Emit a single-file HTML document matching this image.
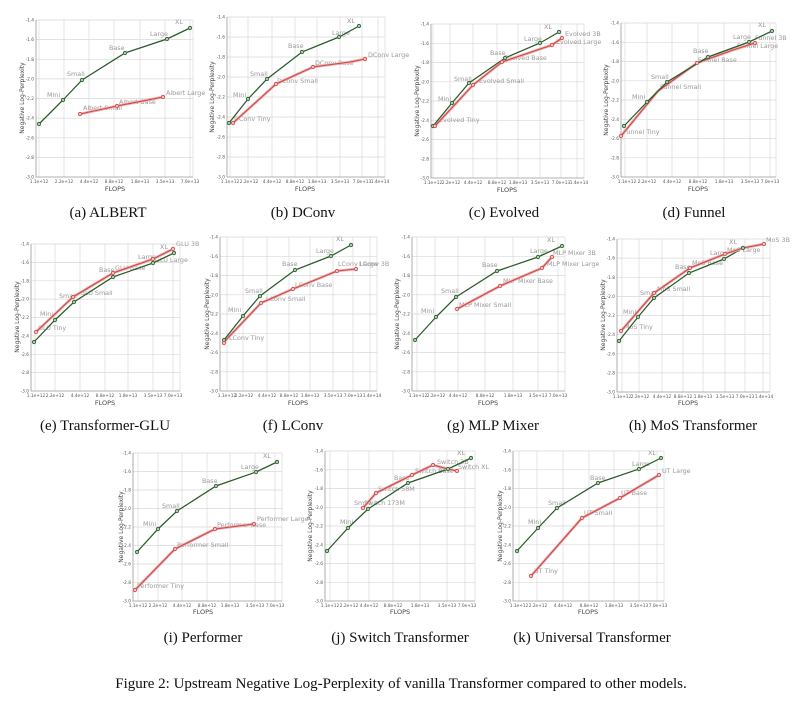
<!DOCTYPE html>
<html><head><meta charset="utf-8"><style>
html,body{margin:0;padding:0;background:#fff;}
svg{display:block}
.g{fill:none;stroke:#d9d9d9;stroke-width:.7}
.ax{fill:none;stroke:#999;stroke-width:.8}
.tk{font-family:"DejaVu Sans",sans-serif;font-size:4.3px;fill:#555}
.tr{text-anchor:end}
.tc{text-anchor:middle}
.lb{font-family:"DejaVu Sans",sans-serif;font-size:6.4px;fill:#999}
.yl{font-family:"DejaVu Sans",sans-serif;font-size:6px;fill:#444;text-anchor:middle}
.fl{font-family:"DejaVu Sans",sans-serif;font-size:6.5px;fill:#444;text-anchor:middle}
.cap{font-family:"Liberation Serif",serif;font-size:15px;fill:#111;text-anchor:middle}
.gl{fill:none;stroke:#2a5a2a;stroke-width:1.25}
.rh{fill:none;stroke:#f1b3b3;stroke-width:2.8}
.rl{fill:none;stroke:#c94848;stroke-width:1.1}
.gm{fill:#a8cda8;stroke:#2a5a2a;stroke-width:.8}
.rm{fill:#f3c0c0;stroke:#c94848;stroke-width:.8}
</style></head><body>
<svg width="803" height="702" viewBox="0 0 803 702" xmlns="http://www.w3.org/2000/svg">
<rect width="803" height="702" fill="#fff"/>

<!-- ===== Panel a ===== -->
<path class="g" d="M36 20H193M36 39.6H193M36 59.3H193M36 78.9H193M36 98.5H193M36 118.1H193M36 137.8H193M36 157.4H193M39 20V177M64 20V177M89 20V177M114 20V177M140 20V177M165 20V177M190 20V177M193 20V177"/>
<path class="ax" d="M36 20V177H193"/>
<g class="tk tr"><text x="34" y="21.5">-1.4</text><text x="34" y="41.1">-1.6</text><text x="34" y="60.8">-1.8</text><text x="34" y="80.4">-2.0</text><text x="34" y="100">-2.2</text><text x="34" y="119.6">-2.4</text><text x="34" y="139.3">-2.6</text><text x="34" y="158.9">-2.8</text><text x="34" y="178.5">-3.0</text></g>
<g class="tk tc"><text x="39" y="183">1.1e+12</text><text x="64" y="183">2.2e+12</text><text x="89" y="183">4.4e+12</text><text x="114" y="183">8.8e+12</text><text x="140" y="183">1.8e+13</text><text x="165" y="183">3.5e+13</text><text x="190" y="183">7.0e+13</text></g>
<text class="yl" transform="translate(24,98) rotate(-90)">Negative Log-Perplexity</text>
<text class="fl" x="115" y="191">FLOPS</text>
<g class="lb"><text x="175" y="24">XL</text><text x="150" y="36">Large</text><text x="109" y="50">Base</text><text x="67" y="76">Small</text><text x="47" y="97">Mini</text><text x="83" y="110">Albert Small</text><text x="119" y="104">Albert Base</text><text x="166" y="95">Albert Large</text></g>
<path class="rh" d="M80 114L117 106L163 97"/><path class="rl" d="M80 114L117 106L163 97"/>
<path class="gl" d="M39 124L63 100L82 80L125 53L167 39L190 28"/>
<g class="gm"><circle cx="39" cy="124" r="1.7"/><circle cx="63" cy="100" r="1.7"/><circle cx="82" cy="80" r="1.7"/><circle cx="125" cy="53" r="1.7"/><circle cx="167" cy="39" r="1.7"/><circle cx="190" cy="28" r="1.7"/></g>
<g class="rm"><circle cx="80" cy="114" r="1.7"/><circle cx="117" cy="106" r="1.7"/><circle cx="163" cy="97" r="1.7"/></g>
<text class="cap" x="108" y="217">(a) ALBERT</text>

<!-- ===== Panel b ===== -->
<path class="g" d="M227 17H385M227 37H385M227 57H385M227 77H385M227 97H385M227 117H385M227 137H385M227 157H385M230 17V177M248 17V177M272 17V177M295 17V177M317 17V177M340 17V177M362 17V177M378 17V177M385 17V177"/>
<path class="ax" d="M227 17V177H385"/>
<g class="tk tr"><text x="225" y="18.5">-1.4</text><text x="225" y="38.5">-1.6</text><text x="225" y="58.5">-1.8</text><text x="225" y="78.5">-2.0</text><text x="225" y="98.5">-2.2</text><text x="225" y="118.5">-2.4</text><text x="225" y="138.5">-2.6</text><text x="225" y="158.5">-2.8</text><text x="225" y="178.5">-3.0</text></g>
<g class="tk tc"><text x="230" y="183">1.1e+12</text><text x="249" y="183">2.2e+12</text><text x="272" y="183">4.4e+12</text><text x="295" y="183">8.8e+12</text><text x="317" y="183">1.8e+13</text><text x="340" y="183">3.5e+13</text><text x="362" y="183">7.0e+13</text><text x="380" y="183">1.4e+14</text></g>
<text class="yl" transform="translate(214,97) rotate(-90)">Negative Log-Perplexity</text>
<text class="fl" x="305" y="191">FLOPS</text>
<g class="lb"><text x="347" y="23">XL</text><text x="332" y="35">Large</text><text x="288" y="48">Base</text><text x="250" y="76">Small</text><text x="233" y="97">Mini</text><text x="234" y="121">DConv Tiny</text><text x="277" y="83">DConv Small</text><text x="315" y="65">DConv Base</text><text x="368" y="57">DConv Large</text></g>
<path class="rh" d="M233 123L276 84L313 67L350 62L365 59"/><path class="rl" d="M233 123L276 84L313 67L350 62L365 59"/>
<path class="gl" d="M229 123L248 99L267 79L302 52L339 37L359 26"/>
<g class="gm"><circle cx="229" cy="123" r="1.7"/><circle cx="248" cy="99" r="1.7"/><circle cx="267" cy="79" r="1.7"/><circle cx="302" cy="52" r="1.7"/><circle cx="339" cy="37" r="1.7"/><circle cx="359" cy="26" r="1.7"/></g>
<g class="rm"><circle cx="233" cy="123" r="1.7"/><circle cx="276" cy="84" r="1.7"/><circle cx="313" cy="67" r="1.7"/><circle cx="365" cy="59" r="1.7"/></g>
<text class="cap" x="303" y="217">(b) DConv</text>

<!-- ===== Panel c ===== -->
<path class="g" d="M431 24H584M431 43.3H584M431 62.5H584M431 81.8H584M431 101H584M431 120.3H584M431 139.5H584M431 158.8H584M433 24V178M450 24V178M473 24V178M497 24V178M518 24V178M540 24V178M561 24V178M577 24V178M584 24V178"/>
<path class="ax" d="M431 24V178H584"/>
<g class="tk tr"><text x="429" y="25.5">-1.4</text><text x="429" y="44.8">-1.6</text><text x="429" y="64">-1.8</text><text x="429" y="83.3">-2.0</text><text x="429" y="102.5">-2.2</text><text x="429" y="121.8">-2.4</text><text x="429" y="141">-2.6</text><text x="429" y="160.3">-2.8</text><text x="429" y="179.5">-3.0</text></g>
<g class="tk tc"><text x="433" y="184">1.1e+12</text><text x="451" y="184">2.2e+12</text><text x="473" y="184">4.4e+12</text><text x="497" y="184">8.8e+12</text><text x="518" y="184">1.8e+13</text><text x="540" y="184">3.5e+13</text><text x="561" y="184">7.0e+13</text><text x="579" y="184">1.4e+14</text></g>
<text class="yl" transform="translate(419,101) rotate(-90)">Negative Log-Perplexity</text>
<text class="fl" x="507" y="192">FLOPS</text>
<g class="lb"><text x="544" y="29">XL</text><text x="565" y="36">Evolved 3B</text><text x="556" y="44">Evolved Large</text><text x="524" y="41">Large</text><text x="490" y="55">Base</text><text x="504" y="60">Evolved Base</text><text x="454" y="81">Small</text><text x="479" y="83">Evolved Small</text><text x="438" y="101">Mini</text><text x="439" y="122">Evolved Tiny</text></g>
<path class="rh" d="M435 126L473 85L502 62L552 45L562 38"/><path class="rl" d="M435 126L473 85L502 62L552 45L562 38"/>
<path class="gl" d="M433 126L452 103L469 83L505 58L540 43L559 32"/>
<g class="gm"><circle cx="433" cy="126" r="1.7"/><circle cx="452" cy="103" r="1.7"/><circle cx="469" cy="83" r="1.7"/><circle cx="505" cy="58" r="1.7"/><circle cx="540" cy="43" r="1.7"/><circle cx="559" cy="32" r="1.7"/></g>
<g class="rm"><circle cx="435" cy="126" r="1.7"/><circle cx="473" cy="85" r="1.7"/><circle cx="502" cy="62" r="1.7"/><circle cx="552" cy="45" r="1.7"/><circle cx="562" cy="38" r="1.7"/></g>
<text class="cap" x="504" y="217">(c) Evolved</text>

<!-- ===== Panel d ===== -->
<path class="g" d="M621 23H776M621 42.3H776M621 61.5H776M621 80.8H776M621 100H776M621 119.3H776M621 138.5H776M621 157.8H776M625 23V177M647 23V177M672 23V177M698 23V177M724 23V177M750 23V177M770 23V177M776 23V177"/>
<path class="ax" d="M621 23V177H776"/>
<g class="tk tr"><text x="619" y="24.5">-1.4</text><text x="619" y="43.8">-1.6</text><text x="619" y="63">-1.8</text><text x="619" y="82.3">-2.0</text><text x="619" y="101.5">-2.2</text><text x="619" y="120.8">-2.4</text><text x="619" y="140">-2.6</text><text x="619" y="159.3">-2.8</text><text x="619" y="178.5">-3.0</text></g>
<g class="tk tc"><text x="627" y="183">1.1e+12</text><text x="647" y="183">2.2e+12</text><text x="672" y="183">4.4e+12</text><text x="698" y="183">8.8e+12</text><text x="724" y="183">1.8e+13</text><text x="750" y="183">3.5e+13</text><text x="770" y="183">7.0e+13</text></g>
<text class="yl" transform="translate(608,100) rotate(-90)">Negative Log-Perplexity</text>
<text class="fl" x="698" y="191">FLOPS</text>
<g class="lb"><text x="758" y="27">XL</text><text x="733" y="39">Large</text><text x="755" y="40">Funnel 3B</text><text x="737" y="48">Funnel Large</text><text x="693" y="53">Base</text><text x="698" y="62">Funnel Base</text><text x="651" y="79">Small</text><text x="660" y="89">Funnel Small</text><text x="632" y="99">Mini</text><text x="623" y="134">Funnel Tiny</text></g>
<path class="rh" d="M621 136L658 91L697 63L733 50L755 43"/><path class="rl" d="M621 136L658 91L697 63L733 50L755 43"/>
<path class="gl" d="M624 126L647 102L667 82L708 57L749 42L772 31"/>
<g class="gm"><circle cx="624" cy="126" r="1.7"/><circle cx="647" cy="102" r="1.7"/><circle cx="667" cy="82" r="1.7"/><circle cx="708" cy="57" r="1.7"/><circle cx="749" cy="42" r="1.7"/><circle cx="772" cy="31" r="1.7"/></g>
<g class="rm"><circle cx="621" cy="136" r="1.7"/><circle cx="697" cy="63" r="1.7"/><circle cx="755" cy="43" r="1.7"/></g>
<text class="cap" x="694" y="217">(d) Funnel</text>

<!-- ===== Panel e ===== -->
<path class="g" d="M31 244H180M31 262.4H180M31 280.8H180M31 299.1H180M31 317.5H180M31 335.9H180M31 354.3H180M31 372.6H180M35 244V391M55 244V391M80 244V391M105 244V391M128 244V391M153 244V391M173 244V391M180 244V391"/>
<path class="ax" d="M31 244V391H180"/>
<g class="tk tr"><text x="29" y="245.5">-1.4</text><text x="29" y="263.9">-1.6</text><text x="29" y="282.3">-1.8</text><text x="29" y="300.6">-2.0</text><text x="29" y="319">-2.2</text><text x="29" y="337.4">-2.4</text><text x="29" y="355.8">-2.6</text><text x="29" y="374.1">-2.8</text><text x="29" y="392.5">-3.0</text></g>
<g class="tk tc"><text x="36" y="397">1.1e+12</text><text x="55" y="397">2.2e+12</text><text x="80" y="397">4.4e+12</text><text x="105" y="397">8.8e+12</text><text x="128" y="397">1.8e+13</text><text x="153" y="397">3.5e+13</text><text x="173" y="397">7.0e+13</text></g>
<text class="yl" transform="translate(19,317) rotate(-90)">Negative Log-Perplexity</text>
<text class="fl" x="105" y="405">FLOPS</text>
<g class="lb"><text x="176" y="246">GLU 3B</text><text x="160" y="249">XL</text><text x="138" y="259">Large</text><text x="155" y="262">GLU Large</text><text x="99" y="272">Base</text><text x="115" y="270">GLU Base</text><text x="59" y="298">Small</text><text x="80" y="295">GLU Small</text><text x="40" y="316">Mini</text><text x="38" y="330">GLU Tiny</text></g>
<path class="gl" d="M34 342L55 320L74 302L113 277L153 263L174 253"/>
<path class="rh" d="M36 332L73 297L113 273L153 259L173 249"/><path class="rl" d="M36 332L73 297L113 273L153 259L173 249"/>
<g class="gm"><circle cx="34" cy="342" r="1.7"/><circle cx="55" cy="320" r="1.7"/><circle cx="74" cy="302" r="1.7"/><circle cx="113" cy="277" r="1.7"/><circle cx="153" cy="263" r="1.7"/><circle cx="174" cy="253" r="1.7"/></g>
<g class="rm"><circle cx="36" cy="332" r="1.7"/><circle cx="73" cy="297" r="1.7"/><circle cx="113" cy="273" r="1.7"/><circle cx="153" cy="259" r="1.7"/><circle cx="173" cy="249" r="1.7"/></g>
<text class="cap" x="105" y="430">(e) Transformer-GLU</text>

<!-- ===== Panel f ===== -->
<path class="g" d="M220 237H377M220 256.3H377M220 275.5H377M220 294.8H377M220 314H377M220 333.3H377M220 352.5H377M220 371.8H377M227 237V391M243 237V391M267 237V391M289 237V391M310 237V391M333 237V391M353 237V391M370 237V391M377 237V391"/>
<path class="ax" d="M220 237V391H377"/>
<g class="tk tr"><text x="218" y="238.5">-1.4</text><text x="218" y="257.8">-1.6</text><text x="218" y="277">-1.8</text><text x="218" y="296.3">-2.0</text><text x="218" y="315.5">-2.2</text><text x="218" y="334.8">-2.4</text><text x="218" y="354">-2.6</text><text x="218" y="373.3">-2.8</text><text x="218" y="392.5">-3.0</text></g>
<g class="tk tc"><text x="227" y="397">1.1e+12</text><text x="244" y="397">2.2e+12</text><text x="267" y="397">4.4e+12</text><text x="289" y="397">8.8e+12</text><text x="310" y="397">1.8e+13</text><text x="333" y="397">3.5e+13</text><text x="353" y="397">7.0e+13</text><text x="372" y="397">1.4e+14</text></g>
<text class="yl" transform="translate(209,314) rotate(-90)">Negative Log-Perplexity</text>
<text class="fl" x="298" y="405">FLOPS</text>
<g class="lb"><text x="336" y="241">XL</text><text x="316" y="253">Large</text><text x="338" y="266">LConv Large</text><text x="359" y="266">LConv 3B</text><text x="282" y="266">Base</text><text x="295" y="287">LConv Base</text><text x="245" y="293">Small</text><text x="266" y="301">LConv Small</text><text x="228" y="312">Mini</text><text x="229" y="340">LConv Tiny</text></g>
<path class="rh" d="M224 342L261 303L293 289L337 271L356 269"/><path class="rl" d="M224 342L261 303L293 289L337 271L356 269"/>
<path class="gl" d="M224 340L243 316L260 296L295 270L331 256L351 245"/>
<g class="gm"><circle cx="224" cy="340" r="1.7"/><circle cx="243" cy="316" r="1.7"/><circle cx="260" cy="296" r="1.7"/><circle cx="295" cy="270" r="1.7"/><circle cx="331" cy="256" r="1.7"/><circle cx="351" cy="245" r="1.7"/></g>
<g class="rm"><circle cx="224" cy="343" r="1.7"/><circle cx="261" cy="303" r="1.7"/><circle cx="293" cy="289" r="1.7"/><circle cx="337" cy="271" r="1.7"/><circle cx="356" cy="269" r="1.7"/></g>
<text class="cap" x="293" y="430">(f) LConv</text>

<!-- ===== Panel g ===== -->
<path class="g" d="M412 237H565M412 256.3H565M412 275.5H565M412 294.8H565M412 314H565M412 333.3H565M412 352.5H565M412 371.8H565M417 237V391M435 237V391M458 237V391M485 237V391M513 237V391M538 237V391M558 237V391M565 237V391"/>
<path class="ax" d="M412 237V391H565"/>
<g class="tk tr"><text x="410" y="238.5">-1.4</text><text x="410" y="257.8">-1.6</text><text x="410" y="277">-1.8</text><text x="410" y="296.3">-2.0</text><text x="410" y="315.5">-2.2</text><text x="410" y="334.8">-2.4</text><text x="410" y="354">-2.6</text><text x="410" y="373.3">-2.8</text><text x="410" y="392.5">-3.0</text></g>
<g class="tk tc"><text x="418" y="397">1.1e+12</text><text x="436" y="397">2.2e+12</text><text x="458" y="397">4.4e+12</text><text x="485" y="397">8.8e+12</text><text x="513" y="397">1.8e+13</text><text x="538" y="397">3.5e+13</text><text x="558" y="397">7.0e+13</text></g>
<text class="yl" transform="translate(399,314) rotate(-90)">Negative Log-Perplexity</text>
<text class="fl" x="488" y="405">FLOPS</text>
<g class="lb"><text x="547" y="242">XL</text><text x="530" y="253">Large</text><text x="553" y="255">MLP Mixer 3B</text><text x="547" y="266">MLP Mixer Large</text><text x="482" y="267">Base</text><text x="503" y="283">MLP Mixer Base</text><text x="441" y="293">Small</text><text x="459" y="307">MLP Mixer Small</text><text x="421" y="313">Mini</text></g>
<path class="rh" d="M457 309L500 286L542 268L552 257"/><path class="rl" d="M457 309L500 286L542 268L552 257"/>
<path class="gl" d="M415 340L436 317L456 297L497 271L538 257L562 246"/>
<g class="gm"><circle cx="415" cy="340" r="1.7"/><circle cx="436" cy="317" r="1.7"/><circle cx="456" cy="297" r="1.7"/><circle cx="497" cy="271" r="1.7"/><circle cx="538" cy="257" r="1.7"/><circle cx="562" cy="246" r="1.7"/></g>
<g class="rm"><circle cx="457" cy="309" r="1.7"/><circle cx="500" cy="286" r="1.7"/><circle cx="542" cy="268" r="1.7"/><circle cx="552" cy="257" r="1.7"/></g>
<text class="cap" x="493" y="430">(g) MLP Mixer</text>

<!-- ===== Panel h ===== -->
<path class="g" d="M617 239H770M617 258.1H770M617 277.3H770M617 296.4H770M617 315.5H770M617 334.6H770M617 353.8H770M617 372.9H770M622 239V392M639 239V392M662 239V392M683 239V392M703 239V392M725 239V392M745 239V392M763 239V392M770 239V392"/>
<path class="ax" d="M617 239V392H770"/>
<g class="tk tr"><text x="615" y="240.5">-1.4</text><text x="615" y="259.6">-1.6</text><text x="615" y="278.8">-1.8</text><text x="615" y="297.9">-2.0</text><text x="615" y="317">-2.2</text><text x="615" y="336.1">-2.4</text><text x="615" y="355.3">-2.6</text><text x="615" y="374.4">-2.8</text><text x="615" y="393.5">-3.0</text></g>
<g class="tk tc"><text x="622" y="398">1.1e+12</text><text x="640" y="398">2.2e+12</text><text x="662" y="398">4.4e+12</text><text x="683" y="398">8.8e+12</text><text x="703" y="398">1.8e+13</text><text x="725" y="398">3.5e+13</text><text x="745" y="398">7.0e+13</text><text x="764" y="398">1.4e+14</text></g>
<text class="yl" transform="translate(605,315) rotate(-90)">Negative Log-Perplexity</text>
<text class="fl" x="688" y="405">FLOPS</text>
<g class="lb"><text x="766" y="242">MoS 3B</text><text x="729" y="244">XL</text><text x="710" y="255">Large</text><text x="727" y="252">MoS Large</text><text x="675" y="269">Base</text><text x="692" y="265">MoS Base</text><text x="640" y="295">Small</text><text x="657" y="291">MoS Small</text><text x="623" y="314">Mini</text><text x="624" y="329">MoS Tiny</text></g>
<path class="gl" d="M619 341L638 317L654 298L689 273L724 259L743 248"/>
<path class="rh" d="M621 331L654 293L690 268L725 254L743 248L764 244"/><path class="rl" d="M621 331L654 293L690 268L725 254L743 248L764 244"/>
<g class="gm"><circle cx="619" cy="341" r="1.7"/><circle cx="638" cy="317" r="1.7"/><circle cx="654" cy="298" r="1.7"/><circle cx="689" cy="273" r="1.7"/><circle cx="724" cy="259" r="1.7"/><circle cx="743" cy="248" r="1.7"/></g>
<g class="rm"><circle cx="621" cy="331" r="1.7"/><circle cx="654" cy="293" r="1.7"/><circle cx="690" cy="268" r="1.7"/><circle cx="725" cy="254" r="1.7"/><circle cx="764" cy="244" r="1.7"/></g>
<text class="cap" x="693" y="430">(h) MoS Transformer</text>

<!-- ===== Panel i ===== -->
<path class="g" d="M133 453H282M133 471.5H282M133 490H282M133 508.5H282M133 527H282M133 545.5H282M133 564H282M133 582.5H282M138 453V601M158 453V601M182 453V601M207 453V601M230 453V601M255 453V601M275 453V601M282 453V601"/>
<path class="ax" d="M133 453V601H282"/>
<g class="tk tr"><text x="131" y="454.5">-1.4</text><text x="131" y="473">-1.6</text><text x="131" y="491.5">-1.8</text><text x="131" y="510">-2.0</text><text x="131" y="528.5">-2.2</text><text x="131" y="547">-2.4</text><text x="131" y="565.5">-2.6</text><text x="131" y="584">-2.8</text><text x="131" y="602.5">-3.0</text></g>
<g class="tk tc"><text x="138" y="607">1.1e+12</text><text x="158" y="607">2.2e+12</text><text x="182" y="607">4.4e+12</text><text x="207" y="607">8.8e+12</text><text x="230" y="607">1.8e+13</text><text x="255" y="607">3.5e+13</text><text x="275" y="607">7.0e+13</text></g>
<text class="yl" transform="translate(123,527) rotate(-90)">Negative Log-Perplexity</text>
<text class="fl" x="203" y="614">FLOPS</text>
<g class="lb"><text x="263" y="458">XL</text><text x="241" y="469">Large</text><text x="202" y="483">Base</text><text x="162" y="508">Small</text><text x="143" y="526">Mini</text><text x="257" y="521">Performer Large</text><text x="217" y="527">Performer Base</text><text x="177" y="547">Performer Small</text><text x="137" y="588">Performer Tiny</text></g>
<path class="rh" d="M135 590L175 549L215 529L254 524"/><path class="rl" d="M135 590L175 549L215 529L254 524"/>
<path class="gl" d="M137 552L158 529L177 511L216 486L256 472L277 462"/>
<g class="gm"><circle cx="137" cy="552" r="1.7"/><circle cx="158" cy="529" r="1.7"/><circle cx="177" cy="511" r="1.7"/><circle cx="216" cy="486" r="1.7"/><circle cx="256" cy="472" r="1.7"/><circle cx="277" cy="462" r="1.7"/></g>
<g class="rm"><circle cx="135" cy="590" r="1.7"/><circle cx="175" cy="549" r="1.7"/><circle cx="215" cy="529" r="1.7"/><circle cx="254" cy="524" r="1.7"/></g>
<text class="cap" x="203" y="642">(i) Performer</text>

<!-- ===== Panel j ===== -->
<path class="g" d="M325 451H475M325 469.8H475M325 488.5H475M325 507.3H475M325 526H475M325 544.8H475M325 563.5H475M325 582.3H475M330 451V601M348 451V601M369 451V601M393 451V601M420 451V601M447 451V601M465 451V601M475 451V601"/>
<path class="ax" d="M325 451V601H475"/>
<g class="tk tr"><text x="323" y="452.5">-1.4</text><text x="323" y="471.3">-1.6</text><text x="323" y="490">-1.8</text><text x="323" y="508.8">-2.0</text><text x="323" y="527.5">-2.2</text><text x="323" y="546.3">-2.4</text><text x="323" y="565">-2.6</text><text x="323" y="583.8">-2.8</text><text x="323" y="602.5">-3.0</text></g>
<g class="tk tc"><text x="330" y="607">1.1e+12</text><text x="349" y="607">2.2e+12</text><text x="369" y="607">4.4e+12</text><text x="393" y="607">8.8e+12</text><text x="420" y="607">1.8e+13</text><text x="447" y="607">3.5e+13</text><text x="467" y="607">7.0e+13</text></g>
<text class="yl" transform="translate(312,526) rotate(-90)">Negative Log-Perplexity</text>
<text class="fl" x="400" y="614">FLOPS</text>
<g class="lb"><text x="340" y="524">Mini</text><text x="354" y="505">Small</text><text x="364" y="505">Switch 173M</text><text x="378" y="491">Switch 58M</text><text x="394" y="480">Base</text><text x="415" y="473">Switch Base</text><text x="437" y="464">Switch 3B</text><text x="457" y="455">XL</text><text x="458" y="469">Switch XL</text></g>
<path class="gl" d="M327 551L348 528L368 509L408 483L448 469L471 458"/>
<path class="rh" d="M363 508L376 493L412 475L433 465L448 469L457 471"/><path class="rl" d="M363 508L376 493L412 475L433 465L448 469L457 471"/>
<g class="gm"><circle cx="327" cy="551" r="1.7"/><circle cx="348" cy="528" r="1.7"/><circle cx="368" cy="509" r="1.7"/><circle cx="408" cy="483" r="1.7"/><circle cx="448" cy="469" r="1.7"/><circle cx="471" cy="458" r="1.7"/></g>
<g class="rm"><circle cx="363" cy="508" r="1.7"/><circle cx="376" cy="493" r="1.7"/><circle cx="412" cy="475" r="1.7"/><circle cx="433" cy="465" r="1.7"/><circle cx="457" cy="471" r="1.7"/></g>
<text class="cap" x="400" y="642">(j) Switch Transformer</text>

<!-- ===== Panel k ===== -->
<path class="g" d="M513 451H664M513 469.8H664M513 488.5H664M513 507.3H664M513 526H664M513 544.8H664M513 563.5H664M513 582.3H664M519 451V601M537 451V601M563 451V601M589 451V601M614 451V601M639 451V601M657 451V601M664 451V601"/>
<path class="ax" d="M513 451V601H664"/>
<g class="tk tr"><text x="511" y="452.5">-1.4</text><text x="511" y="471.3">-1.6</text><text x="511" y="490">-1.8</text><text x="511" y="508.8">-2.0</text><text x="511" y="527.5">-2.2</text><text x="511" y="546.3">-2.4</text><text x="511" y="565">-2.6</text><text x="511" y="583.8">-2.8</text><text x="511" y="602.5">-3.0</text></g>
<g class="tk tc"><text x="519" y="607">1.1e+12</text><text x="538" y="607">2.2e+12</text><text x="563" y="607">4.4e+12</text><text x="589" y="607">8.8e+12</text><text x="614" y="607">1.8e+13</text><text x="639" y="607">3.5e+13</text><text x="658" y="607">7.0e+13</text></g>
<text class="yl" transform="translate(502,526) rotate(-90)">Negative Log-Perplexity</text>
<text class="fl" x="588" y="614">FLOPS</text>
<g class="lb"><text x="648" y="455">XL</text><text x="632" y="466">Large</text><text x="662" y="473">UT Large</text><text x="590" y="480">Base</text><text x="621" y="495">UT Base</text><text x="548" y="505">Small</text><text x="584" y="515">UT Small</text><text x="528" y="524">Mini</text><text x="534" y="573">UT Tiny</text></g>
<path class="rh" d="M531 576L582 518L620 498L659 475"/><path class="rl" d="M531 576L582 518L620 498L659 475"/>
<path class="gl" d="M517 551L538 528L557 508L598 483L639 469L661 458"/>
<g class="gm"><circle cx="517" cy="551" r="1.7"/><circle cx="538" cy="528" r="1.7"/><circle cx="557" cy="508" r="1.7"/><circle cx="598" cy="483" r="1.7"/><circle cx="639" cy="469" r="1.7"/><circle cx="661" cy="458" r="1.7"/></g>
<g class="rm"><circle cx="531" cy="576" r="1.7"/><circle cx="582" cy="518" r="1.7"/><circle cx="620" cy="498" r="1.7"/><circle cx="659" cy="475" r="1.7"/></g>
<text class="cap" x="592" y="642">(k) Universal Transformer</text>

<!-- Figure caption -->
<text class="cap" x="401" y="688">Figure 2: Upstream Negative Log-Perplexity of vanilla Transformer compared to other models.</text>
</svg>
</body></html>
